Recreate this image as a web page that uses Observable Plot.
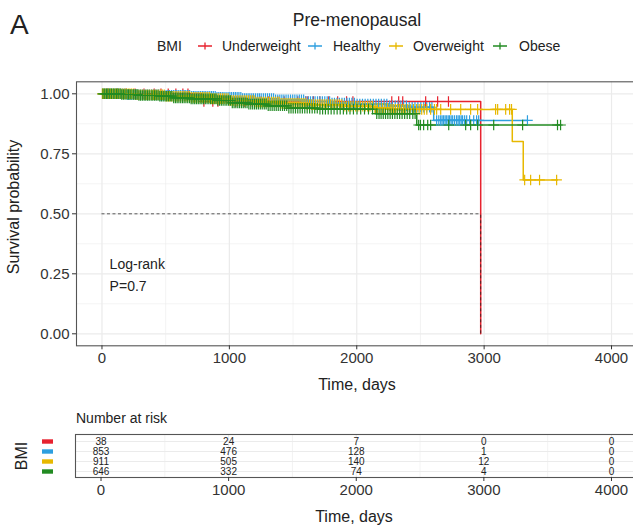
<!DOCTYPE html>
<html><head><meta charset="utf-8">
<script src="https://cdn.jsdelivr.net/npm/d3@7"></script>
<script src="https://cdn.jsdelivr.net/npm/@observablehq/plot@0.6"></script>
<style>
body{margin:0;background:#fff;font-family:"Liberation Sans",Arial,sans-serif;color:#222;}
#wrap{position:relative;width:633px;height:525px;overflow:hidden;background:#fff;}
#main,#risk{position:absolute;left:0;}
#main{top:0;} #risk{top:400px;}
.t{position:absolute;white-space:nowrap;line-height:1;}
.key{position:absolute;top:40px;}
</style></head><body><div id="wrap">
<div id="main"></div><div id="risk"></div>
<div class="t" style="left:10px;top:11px;font-size:28px;">A</div>
<div class="t" style="left:357px;top:12px;font-size:17.5px;transform:translateX(-50%);">Pre-menopausal</div>
<div id="legend"></div>
<div class="t" style="left:14px;top:207px;font-size:16px;transform:translate(-50%,-50%) rotate(-90deg);">Survival probability</div>
<div class="t" style="left:357px;top:385px;font-size:16px;transform:translate(-50%,-50%);">Time, days</div>
<div class="t" style="left:76px;top:418px;font-size:14px;transform:translateY(-50%);">Number at risk</div>
<div class="t" style="left:22px;top:456px;font-size:16px;transform:translate(-50%,-50%) rotate(-90deg);">BMI</div>
<div class="t" style="left:354px;top:517px;font-size:16px;transform:translate(-50%,-50%);">Time, days</div>
</div>
<script>
// ---------- data ----------
const groups = ["Underweight", "Healthy", "Overweight", "Obese"];
const groupColors = ["#E7222E", "#2E9FDF", "#E7B800", "#228B22"];
const legendTitle = "BMI";

const underweightTime = [0, 785, 2973];
const underweightSurv = [1, 0.968, 0];
const underweightEnd = 2973;
const underweightCensor = [45, 120, 190, 260, 330, 410, 463, 520, 580, 635, 675, 800, 870, 910,
  1050, 1120, 1180, 1250, 1310, 1380, 1430, 1480, 1537, 1600, 1616, 1660, 1710, 1780, 1850, 1920, 1970,
  2275, 2329, 2361, 2541, 2635, 2720];

const healthyTime = [0, 200, 450, 700, 900, 1100, 1350, 1600, 1800, 2000, 2250, 2400, 2604];
const healthySurv = [1, 0.997, 0.994, 0.99, 0.985, 0.98, 0.975, 0.968, 0.962, 0.957, 0.95, 0.944, 0.889];
const healthyEnd = 3340;
const healthyCensor = [6, 20, 34, 48, 62, 75, 90, 104, 118, 131, 146, 160, 174, 188, 201, 215, 231, 247, 260, 273,
  288, 302, 316, 330, 344, 358, 373, 389, 403, 417, 431, 445, 458, 472, 488, 503, 517, 530, 546, 561, 575, 588, 603,
  617, 631, 645, 658, 672, 688, 704, 718, 731, 746, 760, 774, 788, 801, 815, 831, 846, 860, 874, 889, 903, 917,
  930, 944, 958, 974, 990, 1004, 1018, 1033, 1047, 1061, 1075, 1090, 1104, 1119, 1133, 1147, 1161, 1176, 1190,
  1206, 1222, 1236, 1250, 1267, 1283, 1299, 1315, 1331, 1347, 1363, 1380, 1396, 1412, 1428, 1445, 1462, 1480,
  1497, 1514, 1531, 1549, 1566, 1583, 1601, 1620, 1637, 1655, 1673, 1692, 1711, 1730, 1749, 1768, 1787, 1806,
  1825, 1845, 1864, 1884, 1903, 1923, 1942, 1962, 1982, 2003, 2024, 2045, 2066, 2087, 2108, 2130, 2151, 2172,
  2193, 2215, 2236, 2258, 2280, 2302, 2324, 2346, 2368, 2390, 2412, 2435, 2457, 2480, 2503, 2526, 2549, 2572,
  2590, 2627, 2644, 2659, 2670, 2682, 2694, 2706, 2718, 2729, 2741, 2753, 2768, 2784, 2796, 2808, 2820, 2831,
  2847, 2863, 2886, 2918, 2941, 2957, 3340];

const overweightTime = [0, 250, 500, 700, 850, 1000, 1200, 1400, 1600, 1900, 2130, 2250, 3221, 3307];
const overweightSurv = [1, 0.996, 0.99, 0.985, 0.98, 0.972, 0.966, 0.96, 0.955, 0.948, 0.94, 0.935, 0.801, 0.641];
const overweightEnd = 3574;
const overweightCensor = [3, 12, 25, 38, 52, 66, 80, 93, 107, 121, 135, 149, 164, 178, 192, 206, 219, 233, 248,
  262, 276, 290, 304, 318, 332, 347, 361, 375, 390, 404, 418, 432, 446, 460, 474, 489, 503, 517, 531, 546, 560,
  574, 588, 603, 617, 631, 646, 660, 674, 688, 702, 717, 731, 745, 760, 774, 788, 802, 817, 831, 845, 859, 874,
  888, 902, 917, 931, 946, 960, 975, 990, 1004, 1019, 1033, 1048, 1062, 1077, 1091, 1106, 1121, 1135, 1150, 1165,
  1180, 1195, 1209, 1224, 1239, 1254, 1269, 1284, 1299, 1314, 1330, 1345, 1360, 1376, 1391, 1406, 1421, 1437,
  1452, 1468, 1483, 1499, 1515, 1531, 1547, 1563, 1579, 1595, 1611, 1628, 1644, 1660, 1677, 1694, 1710, 1727,
  1744, 1761, 1778, 1795, 1812, 1830, 1847, 1865, 1882, 1900, 1918, 1936, 1954, 1972, 1991, 2009, 2028, 2047,
  2066, 2085, 2104, 2123, 2143, 2162, 2182, 2202, 2222, 2242, 2262, 2276, 2290, 2305, 2320, 2335, 2350, 2365,
  2380, 2400, 2420, 2445, 2470, 2490, 2510, 2530, 2550, 2580, 2610, 2627, 2659, 2737, 2816, 2894, 2949, 3090,
  3106, 3169, 3200, 3215, 3318, 3365, 3435, 3569];

const obeseTime = [0, 150, 280, 450, 560, 700, 900, 1010, 1150, 1300, 1460, 1700, 2149, 2471];
const obeseSurv = [1, 0.997, 0.993, 0.99, 0.983, 0.979, 0.972, 0.962, 0.957, 0.95, 0.94, 0.936, 0.917, 0.87];
const obeseEnd = 3600;
const obeseCensor = [8, 22, 35, 47, 61, 74, 88, 101, 115, 127, 142, 155, 168, 181, 196, 209, 222, 236, 249, 263,
  276, 290, 303, 317, 331, 344, 358, 371, 386, 399, 413, 426, 440, 454, 467, 481, 495, 508, 522, 536, 549, 563,
  577, 590, 604, 618, 632, 645, 659, 673, 687, 700, 714, 728, 742, 756, 770, 784, 797, 811, 825, 839, 853, 867,
  881, 895, 909, 923, 937, 951, 966, 980, 994, 1008, 1023, 1037, 1051, 1066, 1080, 1095, 1109, 1124, 1139, 1153,
  1168, 1183, 1198, 1213, 1228, 1243, 1258, 1274, 1289, 1305, 1320, 1336, 1352, 1368, 1384, 1400, 1417, 1433,
  1450, 1467, 1484, 1501, 1519, 1537, 1555, 1573, 1592, 1611, 1630, 1650, 1670, 1690, 1711, 1732, 1754, 1776,
  1799, 1822, 1846, 1870, 1895, 1921, 1947, 1974, 2002, 2031, 2061, 2092, 2124, 2157, 2175, 2191, 2208, 2226,
  2244, 2262, 2280, 2299, 2318, 2337, 2356, 2376, 2396, 2416, 2440, 2458, 2486, 2500, 2525, 2557, 2580, 2722,
  2855, 2894, 2949, 3075, 3302, 3576, 3600];

const medianTime = [2973];      // Underweight median survival
const medianLevel = [0.5];
const pvalueText = ["Log-rank", "P=0.7"];

const riskTimes = [0, 1000, 2000, 3000, 4000];
const riskUnderweight = [38, 24, 7, 0, 0];
const riskHealthy = [853, 476, 128, 1, 0];
const riskOverweight = [911, 505, 140, 12, 0];
const riskObese = [646, 332, 74, 4, 0];

const xTicks = [0, 1000, 2000, 3000, 4000];
const xMinor = [500, 1500, 2500, 3500];
const yTicks = [0, 0.25, 0.5, 0.75, 1];
const yMinor = [0.125, 0.375, 0.625, 0.875];

// ---------- build tables ----------
const series = [
  [underweightTime, underweightSurv, underweightEnd, underweightCensor],
  [healthyTime, healthySurv, healthyEnd, healthyCensor],
  [overweightTime, overweightSurv, overweightEnd, overweightCensor],
  [obeseTime, obeseSurv, obeseEnd, obeseCensor]
];
const curves = [], censors = [];
series.forEach(([T, S, end, C], gi) => {
  const g = groups[gi];
  T.forEach((t, i) => curves.push({group: g, time: t, surv: S[i]}));
  if (end > T[T.length - 1]) curves.push({group: g, time: end, surv: S[S.length - 1]});
  C.forEach(c => {
    let s = S[0];
    T.forEach((t, i) => { if (t <= c) s = S[i]; });
    censors.push({group: g, time: c, surv: s});
  });
});
const riskCols = [riskUnderweight, riskHealthy, riskOverweight, riskObese];
const risk = [];
groups.forEach((g, gi) => riskTimes.forEach((t, i) => risk.push({group: g, time: t, n: riskCols[gi][i]})));

const color = {domain: groups, range: groupColors};
const xScale = {domain: [-200, 4200]};
const axisColor = "#333";
const gridC = "#ebebeb";
const intFmt = d => String(d);

// ---------- main plot ----------
const main = Plot.plot({
  width: 633, height: 400,
  marginLeft: 76, marginRight: -3.5, marginTop: 81.3, marginBottom: 54.7,
  style: {fontFamily: "Liberation Sans, Arial, sans-serif", fontSize: "15px", color: axisColor, background: "white", overflow: "visible"},
  x: xScale, y: {domain: [-0.05, 1.05]}, color,
  marks: [
    Plot.gridX(xMinor, {stroke: gridC, strokeOpacity: 1, strokeWidth: 0.6}),
    Plot.gridY(yMinor, {stroke: gridC, strokeOpacity: 1, strokeWidth: 0.6}),
    Plot.gridX(xTicks, {stroke: gridC, strokeOpacity: 1, strokeWidth: 1.2}),
    Plot.gridY(yTicks, {stroke: gridC, strokeOpacity: 1, strokeWidth: 1.2}),
    Plot.frame({stroke: "#555", strokeWidth: 1.1}),
    Plot.line(curves, {x: "time", y: "surv", z: "group", stroke: "group", curve: "step-after", strokeWidth: 1.5}),
    Plot.dot(censors, {x: "time", y: "surv", stroke: "group", symbol: "plus", r: 3.5, strokeWidth: 1.2}),
    Plot.ruleY(medianLevel, {x1: 0, x2: medianTime[0], stroke: "#333", strokeWidth: 0.8, strokeDasharray: "3,2.5"}),
    Plot.ruleX(medianTime, {y1: 0, y2: medianLevel[0], stroke: "#222", strokeWidth: 0.8, strokeDasharray: "3,2.5"}),
    Plot.text([pvalueText.join("\n")], {x: 60, y: 0.255, text: d => d, textAnchor: "start", lineHeight: 1.6, fontSize: 14, fill: "#222"}),
    Plot.axisX({ticks: xTicks, tickSize: 4, tickPadding: 3, fontSize: 15, label: null, tickFormat: intFmt, stroke: axisColor}),
    Plot.axisY({ticks: yTicks, tickSize: 4, tickPadding: 3, fontSize: 15, label: null, tickFormat: d3.format(".2f"), stroke: axisColor})
  ]
});
document.getElementById("main").append(main);

// ---------- risk table ----------
const barSymbol = {draw(ctx) { ctx.rect(-5.5, -2.2, 11, 4.4); }};
const riskPlot = Plot.plot({
  width: 633, height: 125,
  marginLeft: 75, marginRight: -3.5, marginTop: 34, marginBottom: 48,
  style: {fontFamily: "Liberation Sans, Arial, sans-serif", fontSize: "15px", color: axisColor, background: "white", overflow: "visible"},
  x: xScale, y: {type: "point", domain: groups, range: [40.8, 70.8], padding: 0}, color,
  marks: [
    Plot.gridX(xMinor, {stroke: gridC, strokeOpacity: 1, strokeWidth: 0.6}),
    Plot.gridX(xTicks, {stroke: gridC, strokeOpacity: 1, strokeWidth: 1.1}),
    Plot.gridY(groups, {stroke: gridC, strokeOpacity: 1, strokeWidth: 1.1}),
    Plot.frame({stroke: "#555", strokeWidth: 1.1}),
    Plot.text(risk, {x: "time", y: "group", text: d => String(d.n), fontSize: 10, fill: "#222"}),
    Plot.dot(groups, {y: d => d, frameAnchor: "left", dx: -28, symbol: barSymbol, fill: d => d, stroke: "none"}),
    Plot.axisX({ticks: xTicks, tickSize: 4, tickPadding: 3, fontSize: 15, label: null, tickFormat: intFmt, stroke: axisColor}),
    Plot.axisY({ticks: [], label: null})
  ]
});
document.getElementById("risk").append(riskPlot);

// ---------- legend ----------
const legend = document.getElementById("legend");
const keyX = [205, 315, 396, 500];
const labelX = [222, 333, 413, 519];
legend.innerHTML = `<div class="t" style="left:157px;top:46px;font-size:14px;transform:translateY(-50%);">${legendTitle}</div>` +
  groups.map((g, i) =>
    `<svg class="key" style="left:${keyX[i] - 8}px" width="16" height="12"><path d="M1,6H15M8,2.5V9.5" stroke="${groupColors[i]}" stroke-width="1.3" fill="none"/></svg>` +
    `<div class="t" style="left:${labelX[i]}px;top:46px;font-size:14px;transform:translateY(-50%);">${g}</div>`
  ).join("");
</script>
</body></html>
